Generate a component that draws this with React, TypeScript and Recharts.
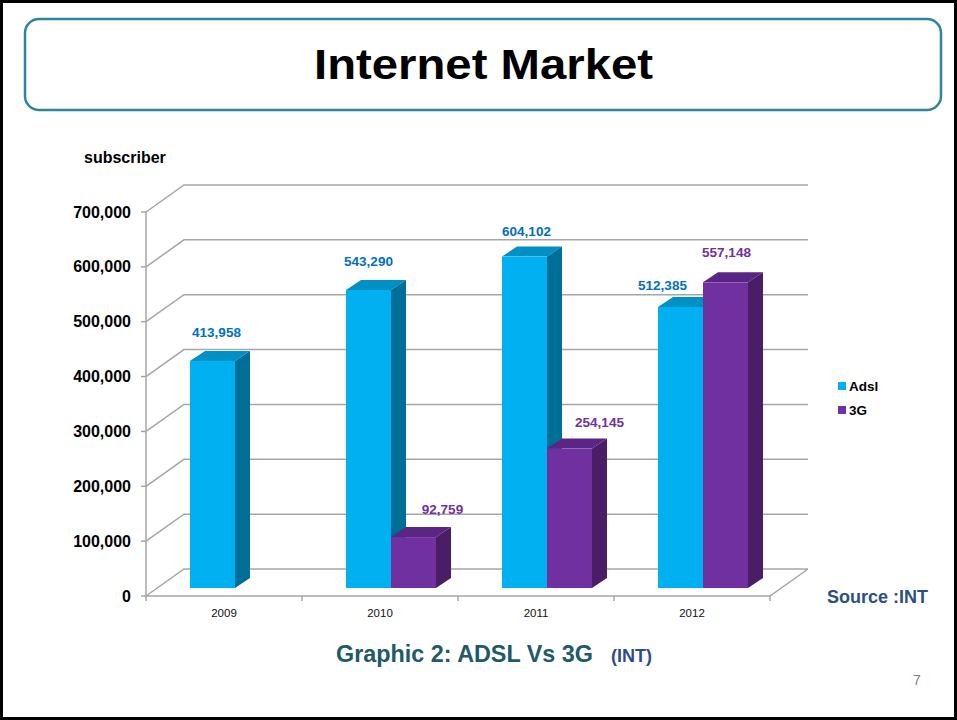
import React from 'react'
import { BarChart, Bar, XAxis, YAxis, CartesianGrid, LabelList, Legend } from 'recharts'

// values
const years = ['2009', '2010', '2011', '2012']
const adslSubscribers = [413958, 543290, 604102, 512385]
const threeGSubscribers = [null, 92759, 254145, 557148]
const valueTicks = [0, 100000, 200000, 300000, 400000, 500000, 600000, 700000]
const seriesOrder = ['Adsl', '3G']

const data = years.map((year, i) => ({
  year,
  adsl: adslSubscribers[i],
  g3: threeGSubscribers[i],
}))

const W = 957
const H = 720
const PLOT_LEFT = 157
const PLOT_RIGHT = 781
const PLOT_TOP = 204
const PLOT_BOTTOM = 588
const X_AXIS_H = 40

// fake 3d: the bars sit in the middle plane, front edge and back wall are offsets of it
const FRONT = { dx: -11, dy: 8 }
const BACK = { dx: 27, dy: -19 }
const DEPTH = { dx: 15, dy: -10 }

const GRID = '#A6A6A6'
const FONT = '"Liberation Sans", Arial, Helvetica, sans-serif'

const COLORS: any = {
  adsl: { front: '#00B0F0', top: '#0090C4', side: '#006F98', label: '#0070C0' },
  g3: { front: '#7030A0', top: '#5A2584', side: '#4A1E66', label: '#7030A0' },
}

const SERIES_VALUES: any = { adsl: adslSubscribers, g3: threeGSubscribers }

// hand placed data labels, like in the original deck (indexed by year)
const LABEL_NUDGE: any = {
  adsl: [[4, -24], [0, -24], [2, -21], [-18, -17]],
  g3: [[0, -23], [29, -23], [30, -22], [1, -25]],
}

const fmt = (v: number) => v.toLocaleString('en-US')

const make3DBar = (c: any) => (props: any) => {
  const { x, y, width, height } = props
  if (height == null || height <= 0.5) return null
  const r = x + width
  const b = y + height
  return (
    <g>
      <polygon
        points={`${x},${y} ${x + DEPTH.dx},${y + DEPTH.dy} ${r + DEPTH.dx},${y + DEPTH.dy} ${r},${y}`}
        fill={c.top}
      />
      <polygon
        points={`${r},${y} ${r + DEPTH.dx},${y + DEPTH.dy} ${r + DEPTH.dx},${b + DEPTH.dy} ${r},${b}`}
        fill={c.side}
      />
      <rect x={x} y={y} width={width} height={height} fill={c.front} />
    </g>
  )
}

const makeValueLabel = (key: string) => (props: any) => {
  const { x, y, width, value } = props
  if (value == null) return null
  // label index skips empty cells, so look the year up by value
  const yearIdx = SERIES_VALUES[key].indexOf(value)
  const [dx, dy] = LABEL_NUDGE[key][yearIdx] || [0, -23]
  return (
    <text
      x={x + width / 2 + dx}
      y={y + dy}
      textAnchor="middle"
      fill={COLORS[key].label}
      fontFamily={FONT}
      fontWeight="bold"
      fontSize={13.5}
    >
      {fmt(value)}
    </text>
  )
}

const renderGridLine = (props: any) => {
  const { x1, x2, y1, key } = props
  const fx = x1 + FRONT.dx
  const fy = y1 + FRONT.dy
  const by = y1 + BACK.dy
  let d = `M${fx},${fy} L${x1 + BACK.dx},${by} L${x2 + BACK.dx},${by}`
  if (Math.abs(y1 - PLOT_BOTTOM) < 1) {
    // floor front edge, right side and the front value axis
    d += ` M${fx},${fy} L${x2 + FRONT.dx},${fy} L${x2 + BACK.dx},${by}`
    d += ` M${fx},${PLOT_TOP + FRONT.dy} L${fx},${fy}`
  }
  return <path key={key} d={d} stroke={GRID} strokeWidth={1.5} fill="none" />
}

const YTick = ({ y, payload }: any) => {
  const fy = y + FRONT.dy
  const ax = PLOT_LEFT + FRONT.dx
  return (
    <g>
      <line x1={ax - 5} y1={fy} x2={ax} y2={fy} stroke={GRID} strokeWidth={1.5} />
      <text
        x={ax - 15}
        y={fy + 5.5}
        textAnchor="end"
        fill="#000"
        fontFamily={FONT}
        fontWeight="bold"
        fontSize={16}
      >
        {fmt(payload.value)}
      </text>
    </g>
  )
}

const XTick = ({ x, payload, index }: any) => {
  const half = (PLOT_RIGHT - PLOT_LEFT) / years.length / 2
  const fx = x + FRONT.dx
  const fy = PLOT_BOTTOM + FRONT.dy
  return (
    <g>
      <line x1={fx - half} y1={fy} x2={fx - half} y2={fy + 5} stroke={GRID} strokeWidth={1.5} />
      {index === years.length - 1 && (
        <line x1={fx + half} y1={fy} x2={fx + half} y2={fy + 5} stroke={GRID} strokeWidth={1.5} />
      )}
      <text x={fx} y={fy + 21} textAnchor="middle" fill="#111" fontFamily={FONT} fontSize={11.5}>
        {payload.value}
      </text>
    </g>
  )
}

const renderLegend = ({ payload }: any) => {
  const items = [...(payload || [])].sort(
    (a: any, b: any) => seriesOrder.indexOf(a.value) - seriesOrder.indexOf(b.value)
  )
  return (
    <div style={{ fontFamily: FONT, fontWeight: 'bold', fontSize: 13.5, color: '#000' }}>
      {items.map((p: any) => (
        <div key={p.value} style={{ display: 'flex', alignItems: 'center', height: 24 }}>
          <span style={{ width: 8, height: 8, background: p.color, marginRight: 3, display: 'inline-block' }} />
          {p.value}
        </div>
      ))}
    </div>
  )
}

export default function App() {
  return (
    <div style={{ position: 'absolute', left: 0, top: 0, width: W, height: H, background: '#fff' }}>
      <BarChart
        width={W}
        height={H}
        data={data}
        margin={{ top: PLOT_TOP, right: W - PLOT_RIGHT, bottom: H - PLOT_BOTTOM - X_AXIS_H, left: 0 }}
        barSize={45}
        barGap={0}
      >
        <CartesianGrid vertical={false} horizontal={renderGridLine} />
        <XAxis
          dataKey="year"
          height={X_AXIS_H}
          axisLine={false}
          tickLine={false}
          interval={0}
          tick={<XTick />}
        />
        <YAxis
          type="number"
          width={PLOT_LEFT}
          domain={[0, 700000]}
          ticks={valueTicks}
          axisLine={false}
          tickLine={false}
          tick={<YTick />}
        />
        <Legend
          layout="vertical"
          align="center"
          verticalAlign="middle"
          content={renderLegend}
          wrapperStyle={{ left: 838, top: 374, width: 80 }}
        />
        <Bar dataKey="adsl" name="Adsl" fill={COLORS.adsl.front} shape={make3DBar(COLORS.adsl)} isAnimationActive={false}>
          <LabelList dataKey="adsl" content={makeValueLabel('adsl')} />
        </Bar>
        <Bar dataKey="g3" name="3G" fill={COLORS.g3.front} shape={make3DBar(COLORS.g3)} isAnimationActive={false}>
          <LabelList dataKey="g3" content={makeValueLabel('g3')} />
        </Bar>
      </BarChart>

      <svg
        width={W}
        height={H}
        style={{ position: 'absolute', left: 0, top: 0, pointerEvents: 'none' }}
        fontFamily={FONT}
      >
        <rect x={1.5} y={1.5} width={W - 3} height={H - 3} fill="none" stroke="#000" strokeWidth={3} />
        <rect x={25} y={19} width={916} height={91} rx={14} fill="none" stroke="#31849B" strokeWidth={2.5} />
        <text x={314} y={79} fontSize={42} fontWeight="bold" fill="#000" textLength={339} lengthAdjust="spacingAndGlyphs">
          Internet Market
        </text>
        <text x={84} y={163} fontSize={16} fontWeight="bold" fill="#000">
          subscriber
        </text>
        <text x={827} y={603} fontSize={19} fontWeight="bold" fill="#2A5082" textLength={101} lengthAdjust="spacingAndGlyphs">
          Source :INT
        </text>
        <text x={336} y={662} fontSize={24} fontWeight="bold" fill="#215968" textLength={257} lengthAdjust="spacingAndGlyphs">
          Graphic 2: ADSL Vs 3G
        </text>
        <text x={611} y={662} fontSize={18} fontWeight="bold" fill="#2B4C8C" textLength={41} lengthAdjust="spacingAndGlyphs">
          (INT)
        </text>
        <text x={913} y={685} fontSize={14} fill="#808080">
          7
        </text>
      </svg>
    </div>
  )
}
